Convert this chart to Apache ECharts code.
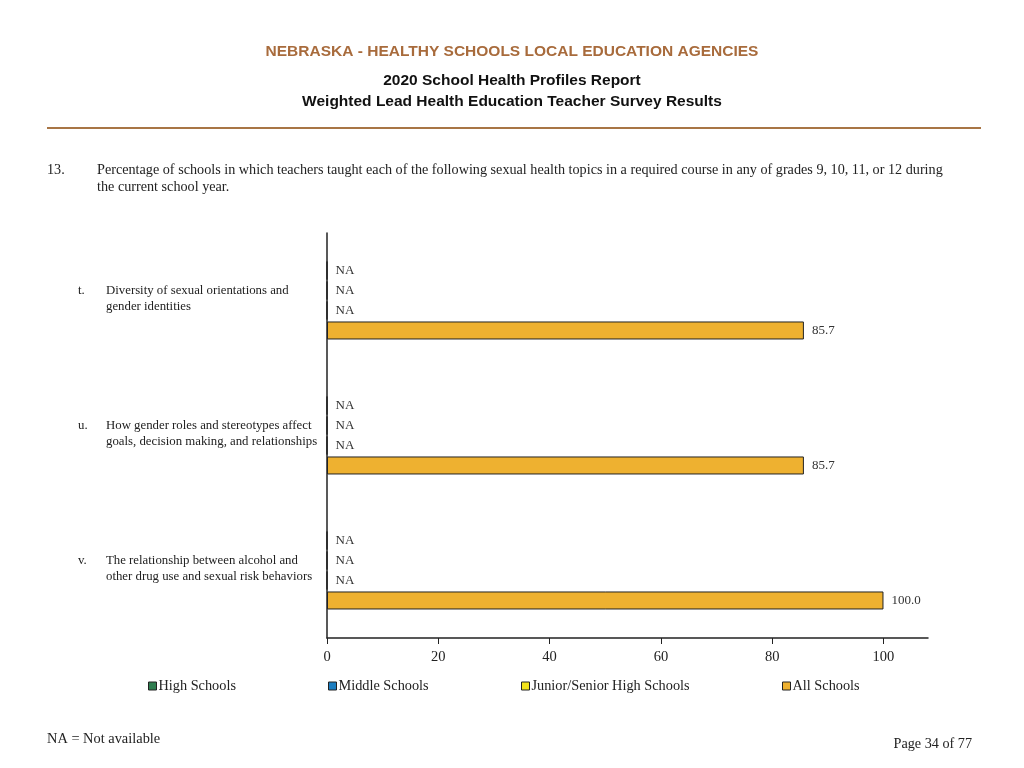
<!DOCTYPE html>
<html>
<head>
<meta charset="utf-8">
<script src="https://cdn.jsdelivr.net/npm/echarts@6/dist/echarts.min.js"></script>
<style>html,body{margin:0;padding:0;background:#fff;}#c{width:1024px;height:768px;}</style>
</head>
<body>
<div id="c"></div>
<script>
const letters = ['t.', 'u.', 'v.'];
const categories = [
  ['Diversity of sexual orientations and', 'gender identities'],
  ['How gender roles and stereotypes affect', 'goals, decision making, and relationships'],
  ['The relationship between alcohol and', 'other drug use and sexual risk behaviors']
];
const seriesNames = ['High Schools', 'Middle Schools', 'Junior/Senior High Schools', 'All Schools'];
const highSchools = [null, null, null];
const middleSchools = [null, null, null];
const juniorSenior = [null, null, null];
const allSchools = [85.7, 85.7, 100.0];
const xTicks = [0, 20, 40, 60, 80, 100];
const seriesColors = ['#2E7D4F', '#1B7DC0', '#F3E31A', '#EEB130'];

const serif = 'Liberation Serif';
const values = [highSchools, middleSchools, juniorSenior, allSchools];
const catKeys = categories.map((c, i) => 'c' + i);

const series = seriesNames.map((name, si) => ({
  name,
  type: 'bar',
  barWidth: 18,
  barGap: '11%',
  itemStyle: { color: seriesColors[si], borderColor: '#222', borderWidth: 1 },
  label: {
    show: true, position: 'right', distance: 8,
    fontFamily: serif, fontSize: 13, color: '#333',
    formatter: p => (p.data.raw == null ? 'NA' : p.data.raw.toFixed(1))
  },
  data: values[si].map(v => ({ value: v == null ? 0 : v, raw: v }))
}));

const legendLefts = [143, 323, 516, 777];
const legends = seriesNames.map((n, i) => ({
  data: [n], left: legendLefts[i], top: 674, itemWidth: 8, itemHeight: 8, itemGap: 2,
  icon: 'rect', selectedMode: false,
  itemStyle: { borderColor: '#222', borderWidth: 1 },
  textStyle: { fontFamily: serif, fontSize: 14.3, color: '#222', padding: [0, 0, 0, -3] }
}));

const chart = echarts.init(document.getElementById('c'));
chart.setOption({
  backgroundColor: '#fff',
  animation: false,
  color: seriesColors,
  title: [
    { text: 'NEBRASKA - HEALTHY SCHOOLS LOCAL EDUCATION AGENCIES', left: 'center', top: 39,
      textStyle: { fontFamily: 'Liberation Sans', fontWeight: 'bold', fontSize: 15.5, color: '#A86B3C' } },
    { text: '2020 School Health Profiles Report', left: 'center', top: 68,
      textStyle: { fontFamily: 'Liberation Sans', fontWeight: 'bold', fontSize: 15.5, color: '#111' } },
    { text: 'Weighted Lead Health Education Teacher Survey Results', left: 'center', top: 89,
      textStyle: { fontFamily: 'Liberation Sans', fontWeight: 'bold', fontSize: 15.5, color: '#111' } }
  ],
  legend: legends,
  graphic: [
    { type: 'line', shape: { x1: 47, y1: 128, x2: 981, y2: 128 }, style: { stroke: '#A87545', lineWidth: 2 } },
    { type: 'text', left: 47, top: 163, style: { text: '13.', font: '14.2px "Liberation Serif"', fill: '#222' } },
    { type: 'text', left: 97, top: 162, style: { text: 'Percentage of schools in which teachers taught each of the following sexual health topics in a required course in any of grades 9, 10, 11, or 12 during\nthe current school year.', font: '14.2px "Liberation Serif"', fill: '#222', lineHeight: 17 } },
    { type: 'text', left: 47, top: 732, style: { text: 'NA = Not available', font: '14.4px "Liberation Serif"', fill: '#222' } },
    { type: 'text', right: 52, top: 737, style: { text: 'Page 34 of 77', font: '14.2px "Liberation Serif"', fill: '#222' } }
  ],
  grid: { left: 327, top: 233, right: 96, bottom: 130, containLabel: false },
  xAxis: {
    type: 'value', min: 0, max: 108,
    axisLine: { show: true, lineStyle: { color: '#222', width: 1.5 } },
    axisTick: { show: true, length: 6, customValues: xTicks, lineStyle: { color: '#222' } },
    axisLabel: { customValues: xTicks, margin: 12, fontFamily: serif, fontSize: 14.5, color: '#222' },
    splitLine: { show: false }
  },
  yAxis: {
    type: 'category', inverse: true, data: catKeys,
    axisLine: { show: true, lineStyle: { color: '#222', width: 1.5 } },
    axisTick: { show: false },
    axisLabel: {
      align: 'left', margin: 249, fontFamily: serif, fontSize: 12.8, color: '#222', lineHeight: 15.5,
      padding: [0, 0, 4, 0],
      formatter: (v, i) => '{l|' + letters[i] + '}{t|' + categories[i][0] + '}\n{l|}{t|' + categories[i][1] + '}',
      rich: {
        l: { width: 28, fontFamily: serif, fontSize: 12.8, color: '#222', lineHeight: 15.5 },
        t: { fontFamily: serif, fontSize: 12.8, color: '#222', lineHeight: 15.5 }
      }
    }
  },
  series
});
</script>
</body>
</html>
